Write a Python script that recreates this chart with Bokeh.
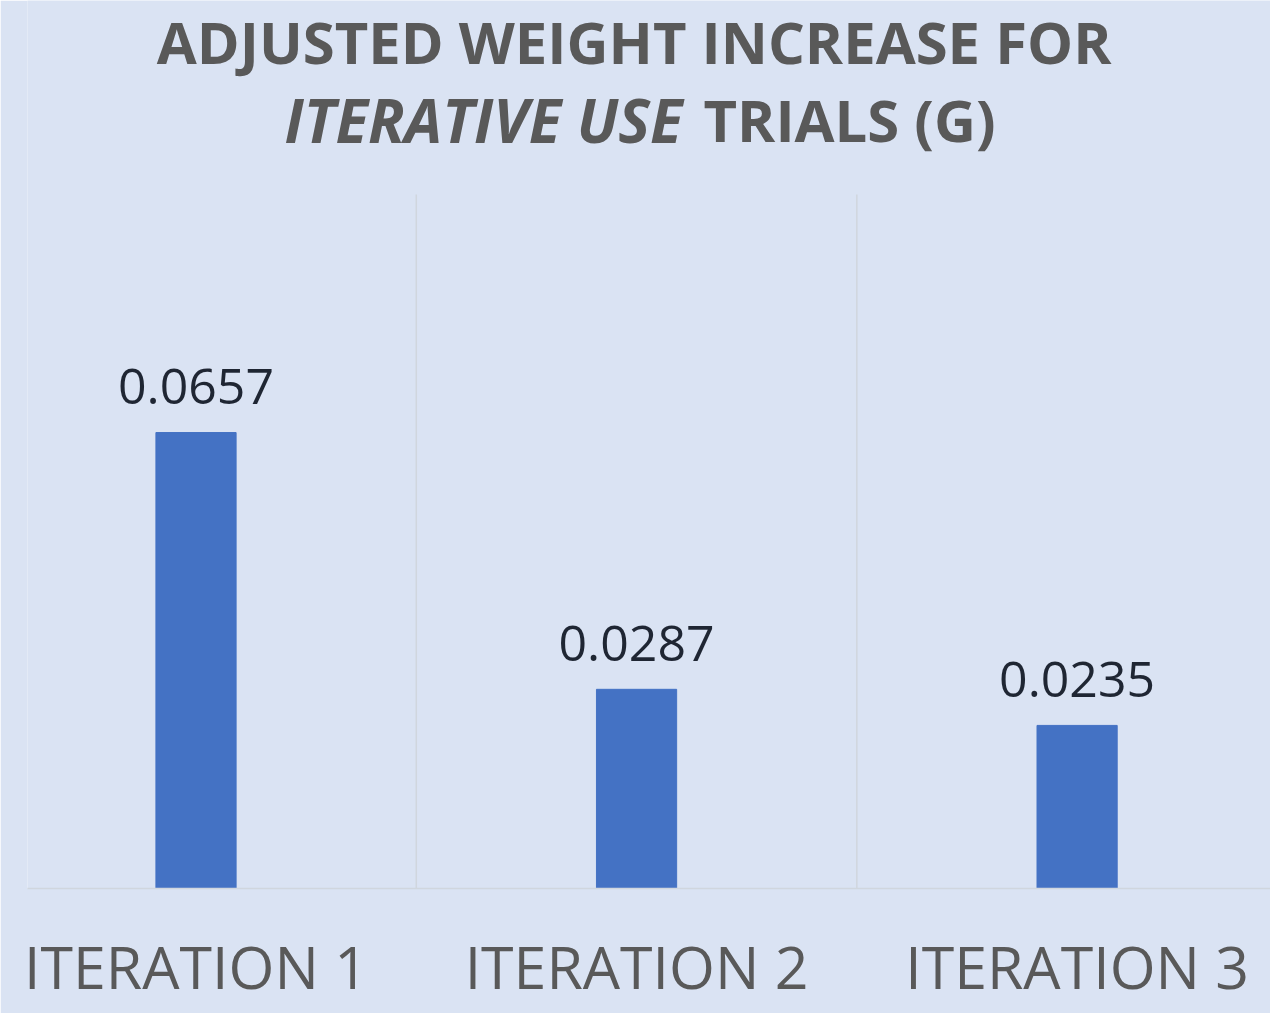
from bokeh.plotting import figure
from bokeh.models import Range1d, FixedTicker, ColumnDataSource
from bokeh.core.properties import value
from bokeh.embed import file_html
from bokeh.resources import INLINE

categories = ["ITERATION 1", "ITERATION 2", "ITERATION 3"]
values = [0.0657, 0.0287, 0.0235]
value_labels = ["0.0657", "0.0287", "0.0235"]
title_line1 = "ADJUSTED WEIGHT INCREASE FOR"
title_line2_italic = "ITERATIVE USE"
title_line2_normal = "TRIALS (G)"

BG = "#dae3f3"
TXT = "#595959"
GRID = "#d0d6de"
W, H = 1270, 1013
LEFT, BOTTOM = 27, 125
PLOT_TOP_PX = 194          # pixel row where the value axis reaches y_max
Y_MAX = 0.1
X0, X1 = 0.1175, 2.939

frame_h = H - BOTTOM
y_top = Y_MAX * frame_h / (frame_h - PLOT_TOP_PX)
px_per_x = (W - LEFT) / (X1 - X0)

def dx(px):
    return X0 + (px - LEFT) / px_per_x

def dy(py):
    return y_top * (frame_h - py) / frame_h

xs = [i + 0.5 for i in range(len(categories))]
bounds = [i for i in range(1, len(categories))]

p = figure(width=W, height=H, output_backend="svg", toolbar_location=None,
           x_range=Range1d(X0, X1), y_range=Range1d(0, y_top),
           min_border_left=LEFT, min_border_right=0, min_border_top=0, min_border_bottom=BOTTOM)
p.background_fill_color = BG
p.border_fill_color = BG
p.outline_line_color = None
p.grid.visible = False
p.yaxis.visible = False

# category separators (only up to the top of the value range)
p.segment(x0=bounds, y0=[0] * len(bounds), x1=bounds, y1=[Y_MAX] * len(bounds),
          line_color=GRID, line_width=1.5)

src = ColumnDataSource(dict(x=xs, top=values, lab=value_labels))
p.vbar(x="x", top="top", width=0.182, bottom=0, source=src, color="#4472c4")
p.text(x="x", y="top", text="lab", source=src, text_align="center", text_baseline="alphabetic",
       y_offset=-46, text_font=value("Open Sans"), text_font_size="50px", text_color="#1f2633")

# title
tf = value("Open Sans")
p.text(x=[dx(633.6)], y=[dy(66)], text=[title_line1], text_align="center", text_baseline="alphabetic",
       y_offset=-25, text_font=tf, text_font_style="bold", text_font_size="58px", text_color=TXT)
p.text(x=[dx(682)], y=[dy(143)], text=[title_line2_italic], text_align="right", text_baseline="alphabetic",
       y_offset=-24, text_font=tf, text_font_style="bold italic", text_font_size="60px", text_color=TXT)
p.text(x=[dx(703)], y=[dy(143)], text=[title_line2_normal], text_align="left", text_baseline="alphabetic",
       y_offset=-24, text_font=tf, text_font_style="bold", text_font_size="58px", text_color=TXT)

ax = p.xaxis[0]
ax.ticker = FixedTicker(ticks=xs)
ax.major_label_overrides = {x: c for x, c in zip(xs, categories)}
ax.axis_line_color = GRID
ax.axis_line_width = 1.5
ax.major_tick_line_color = None
ax.minor_tick_line_color = None
ax.major_label_text_font = "Open Sans"
ax.major_label_text_font_size = "59px"
ax.major_label_text_color = TXT
ax.major_label_standoff = 31

open("out.html", "w").write(file_html(p, INLINE))
